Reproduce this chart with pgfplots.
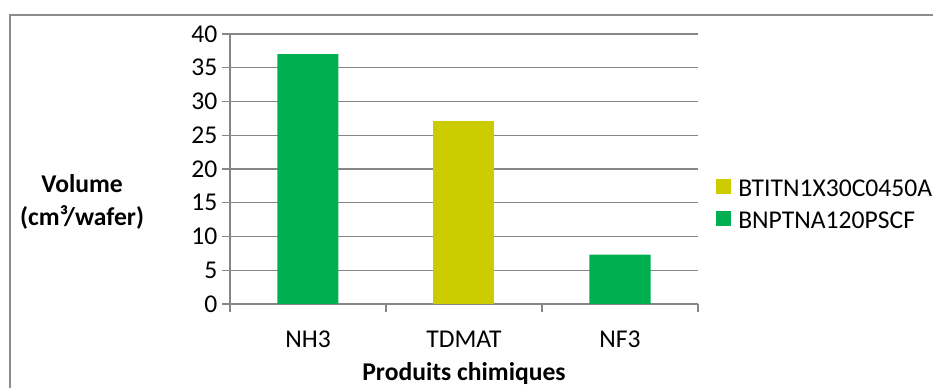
\documentclass[border=0pt]{standalone}
\usepackage{fontspec}
\setmainfont{Carlito}
\usepackage{pgfplots}
\pgfplotsset{compat=1.18}
\definecolor{cgreen}{RGB}{0,176,80}
\definecolor{cyellow}{RGB}{204,204,0}
\definecolor{cgrid}{RGB}{134,134,134}
\definecolor{cframe}{RGB}{140,140,140}
\begin{document}
\begin{tikzpicture}
\path[use as bounding box] (0,0) rectangle (699.75pt,291pt);
\draw[cframe, line width=1.5pt] (7.5pt,0) -- (7.5pt,279.75pt) -- (699.75pt,279.75pt);
\begin{axis}[
  at={(172.5pt,63pt)}, anchor=south west,
  scale only axis, width=351pt, height=202.5pt,
  xmin=-0.5, xmax=2.5, ymin=0, ymax=40,
  ytick={0,5,...,40},
  xtick={0,1,2}, xticklabels={NH3,TDMAT,NF3},
  axis x line*=bottom, axis y line*=left,
  axis line style={cgrid, line width=1.1pt},
  ymajorgrids, grid style={cgrid, line width=1.1pt},
  tick align=outside, major tick length=6pt,
  ytick style={cgrid, line width=1.1pt},
  xtick style={draw=none},
  extra x ticks={-0.5,0.5,1.5,2.5}, extra x tick labels={},
  extra x tick style={grid=none, xtick style={draw=cgrid, line width=1.1pt}},
  tick label style={font=\fontsize{19.2}{23}\selectfont},
  /pgf/number format/assume math mode=true,
  xticklabel style={yshift=-10.5pt},
  ybar, bar width=45.75pt, bar shift=0pt,
  legend image code/.code={\fill[#1] (0pt,0.5pt) rectangle (11.25pt,11.75pt);},
  legend cell align=left,
  legend style={at={(axis description cs:1.0385,0.4667)}, anchor=north west,
    draw=none, fill=none, inner sep=0pt, font=\fontsize{19.2}{23}\selectfont,
    nodes={inner sep=0pt, text height=13.5pt, text depth=10.5pt},
    /tikz/every odd column/.append style={column sep=5.25pt}},
  ylabel={Volume\\(cm³/wafer)},
  every axis y label/.style={at={(axis description cs:-0.316,0.378)}, anchor=center,
    align=center, font=\fontsize{19.2}{24.75}\selectfont\bfseries},
  xlabel={Produits chimiques},
  every axis x label/.style={at={(axis description cs:0.5,-0.283)}, anchor=base,
    font=\fontsize{19.2}{23}\selectfont\bfseries},
]
\addplot[fill=cyellow, draw=none] coordinates {(1,27.1)};
\addlegendentry{BTITN1X30C0450A}
\addplot[fill=cgreen, draw=none] coordinates {(0,37.0) (2,7.3)};
\addlegendentry{BNPTNA120PSCF}
\end{axis}
\end{tikzpicture}
\end{document}
